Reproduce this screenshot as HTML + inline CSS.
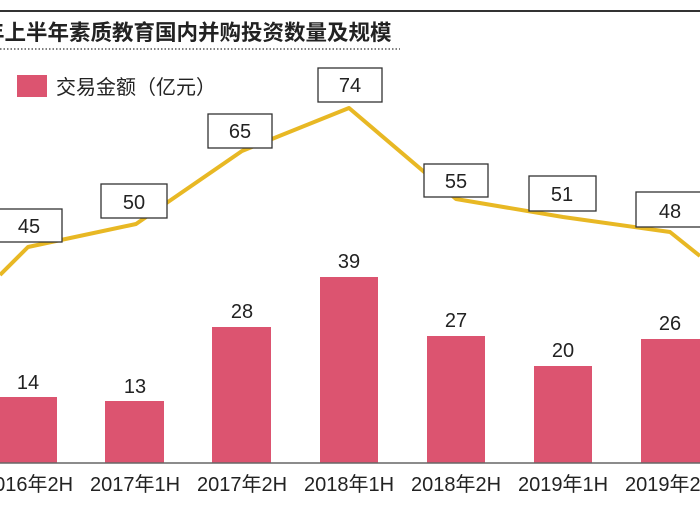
<!DOCTYPE html>
<html><head><meta charset="utf-8"><style>
body{margin:0;background:#fff}
svg text{font-family:"Liberation Sans","Noto Sans CJK SC",sans-serif;fill:#222}
</style></head><body>
<svg width="700" height="500" viewBox="0 0 700 500" xmlns="http://www.w3.org/2000/svg">
<rect width="700" height="500" fill="#fff"/>
<line x1="0" y1="11" x2="700" y2="11" stroke="#333" stroke-width="2"/>
<text x="-17" y="40" font-size="21.5" font-weight="bold" style="font-family:'Noto Sans CJK SC',sans-serif">年上半年素质教育国内并购投资数量及规模</text>
<line x1="0" y1="49" x2="400" y2="49" stroke="#555" stroke-width="1.5" stroke-dasharray="1.5,2"/>
<rect x="17" y="75" width="30" height="22" fill="#dc5470"/>
<text x="56" y="94" font-size="20" style="font-family:'Noto Sans CJK SC',sans-serif">交易金额（亿元）</text>
<g fill="#dc5470">
<rect x="-1" y="397" width="58" height="66"/>
<rect x="105" y="401" width="59" height="62"/>
<rect x="212" y="327" width="59" height="136"/>
<rect x="320" y="277" width="58" height="186"/>
<rect x="427" y="336" width="58" height="127"/>
<rect x="534" y="366" width="58" height="97"/>
<rect x="641" y="339" width="59" height="124"/>
</g>
<line x1="0" y1="463" x2="700" y2="463" stroke="#666" stroke-width="1.5"/>
<g font-size="20" text-anchor="middle">
<text x="28" y="389">14</text><text x="135" y="393">13</text><text x="242" y="318">28</text>
<text x="349" y="268">39</text><text x="456" y="327">27</text><text x="563" y="357">20</text><text x="670" y="330">26</text>
</g>
<polyline points="0,275 28,247 136,224 242,151 349,108 456,199 563,217 670,232 700,256" fill="none" stroke="#e8b824" stroke-width="4" stroke-linejoin="round"/>
<g fill="#fff" stroke="#333" stroke-width="1.3">
<rect x="-3" y="209" width="65" height="33"/>
<rect x="101" y="184" width="66" height="34"/>
<rect x="208" y="114" width="64" height="34"/>
<rect x="318" y="68" width="64" height="34"/>
<rect x="424" y="164" width="64" height="33"/>
<rect x="529" y="176" width="67" height="35"/>
<rect x="636" y="192" width="66" height="35"/>
</g>
<g font-size="20" text-anchor="middle">
<text x="29" y="233">45</text><text x="134" y="209">50</text><text x="240" y="138">65</text>
<text x="350" y="92">74</text><text x="456" y="188">55</text><text x="562" y="201">51</text><text x="670" y="218">48</text>
</g>
<g font-size="20" text-anchor="middle">
<text x="28" y="491">2016年2H</text><text x="135" y="491">2017年1H</text><text x="242" y="491">2017年2H</text>
<text x="349" y="491">2018年1H</text><text x="456" y="491">2018年2H</text><text x="563" y="491">2019年1H</text><text x="670" y="491">2019年2H</text>
</g>
</svg>
</body></html>
